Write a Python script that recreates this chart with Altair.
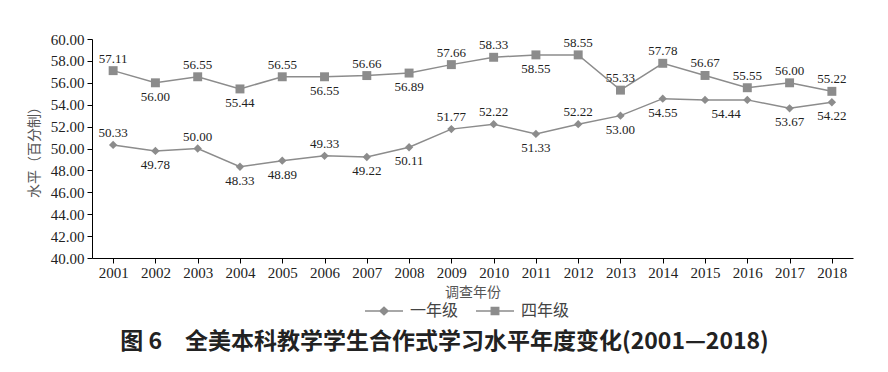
import altair as alt
import pandas as pd

years = [str(y) for y in range(2001, 2019)]
grade1 = [50.33, 49.78, 50.00, 48.33, 48.89, 49.33, 49.22, 50.11, 51.77, 52.22,
          51.33, 52.22, 53.00, 54.55, 54.44, 54.44, 53.67, 54.22]
grade4 = [57.11, 56.00, 56.55, 55.44, 56.55, 56.55, 56.66, 56.89, 57.66, 58.33,
          58.55, 58.55, 55.33, 57.78, 56.67, 55.55, 56.00, 55.22]
# label placement relative to point: a=above, b=below, m=below between points, n=none
pos1 = ["a", "b", "a", "b", "b", "a", "b", "b", "a", "a",
        "b", "a", "b", "b", "m", "n", "b", "b"]
pos4 = ["a", "b", "a", "b", "a", "b", "a", "b", "a", "a",
        "b", "a", "a", "a", "a", "a", "a", "a"]
series = ["一年级", "四年级"]
y_ticks = [40, 42, 44, 46, 48, 50, 52, 54, 56, 58, 60]

rows = []
for yr, v, p in zip(years, grade1, pos1):
    rows.append({"年份": yr, "水平": v, "组": series[0], "pos": p})
for yr, v, p in zip(years, grade4, pos4):
    rows.append({"年份": yr, "水平": v, "组": series[1], "pos": p})
df = pd.DataFrame(rows)

GRAY = "#8c8c8c"
SERIF = "Liberation Serif"
CJK = "Noto Sans CJK SC"

x_enc = alt.X("年份:O", scale=alt.Scale(type="point", padding=0.5),
              axis=alt.Axis(title="调查年份", labelAngle=0, labelFont=SERIF,
                            labelFontSize=15, labelColor="#222", tickSize=5,
                            tickColor="#000", domainColor="#000", labelPadding=2,
                            titleFont=CJK, titleFontSize=14, titleFontWeight="normal",
                            titleColor="#555", titlePadding=5, grid=False))
y_enc = alt.Y("水平:Q", scale=alt.Scale(domain=[40, 60], nice=False, zero=False),
              axis=alt.Axis(title="水平（百分制）", values=y_ticks, format=".2f",
                            labelFont=SERIF, labelFontSize=15, labelColor="#222",
                            tickSize=5, tickColor="#000", domainColor="#000",
                            labelPadding=3, titleFont=CJK, titleFontSize=14,
                            titleFontWeight="normal", titleColor="#555",
                            titlePadding=9, grid=False))

base = alt.Chart(df).encode(x=x_enc, y=y_enc)

lines = base.mark_line(color=GRAY, strokeWidth=1.5).encode(
    detail="组:N")

points = base.mark_point(filled=True, opacity=1, color=GRAY).encode(
    shape=alt.Shape("组:N", scale=alt.Scale(domain=series, range=["diamond", "square"]),
                    legend=None),
    size=alt.Size("组:N", scale=alt.Scale(domain=series, range=[70, 80]), legend=None))

txt_style = dict(font=SERIF, fontSize=13, color="#222", baseline="middle")
lab_above = base.transform_filter("datum.pos == 'a'").mark_text(dy=-12, **txt_style).encode(
    text=alt.Text("水平:Q", format=".2f"))
lab_below = base.transform_filter("datum.pos == 'b'").mark_text(dy=14, **txt_style).encode(
    text=alt.Text("水平:Q", format=".2f"))
lab_mid = base.transform_filter("datum.pos == 'm'").mark_text(dy=14, dx=21, **txt_style).encode(
    text=alt.Text("水平:Q", format=".2f"))

path1 = "M-1,0L1,0M-0.22,0L0,-0.2L0.22,0L0,0.2Z"
path4 = "M-1,0L1,0M-0.2,-0.19L0.2,-0.19L0.2,0.19L-0.2,0.19Z"
leg = alt.Legend(title=None, orient="none", direction="horizontal",
                 legendX=272, legendY=252, symbolSize=1444, symbolOpacity=1,
                 symbolStrokeWidth=1.3,
                 labelFont=CJK, labelFontSize=16, labelColor="#444",
                 labelOffset=6, columnPadding=14)
legend_layer = alt.Chart(df).transform_filter("false").mark_point(
    filled=True, opacity=1, strokeWidth=1.3).encode(
    shape=alt.Shape("组:N", scale=alt.Scale(domain=series, range=[path1, path4]), legend=leg),
    fill=alt.Fill("组:N", scale=alt.Scale(domain=series, range=[GRAY, GRAY]), legend=leg),
    stroke=alt.Stroke("组:N", scale=alt.Scale(domain=series, range=[GRAY, GRAY]), legend=leg))

chart = alt.layer(lines, points, lab_above, lab_below, lab_mid, legend_layer).resolve_scale(
    shape="independent", size="independent", fill="independent", stroke="independent"
).properties(
    width=761, height=219,
    padding={"left": 84, "top": 31, "right": 27, "bottom": 106},
    autosize=alt.AutoSizeParams(type="none"),
    title=alt.TitleParams("图 6　全美本科教学学生合作式学习水平年度变化(2001—2018)",
                          orient="bottom", anchor="middle", font=CJK, fontSize=23,
                          fontWeight="bold", color="#222", offset=12, dx=-28),
).configure_view(stroke=None)

chart.save("out.html", embed_options={"renderer": "svg", "actions": False})
